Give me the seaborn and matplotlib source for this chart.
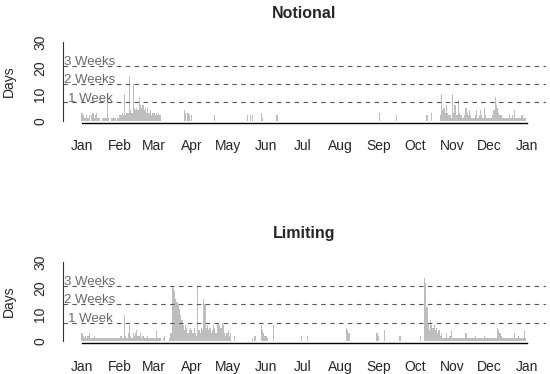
import numpy as np
import pandas as pd
import matplotlib.pyplot as plt
import seaborn as sns

# month ticks (day of year where each month starts)
month_labels = ["Jan", "Feb", "Mar", "Apr", "May", "Jun", "Jul",
                "Aug", "Sep", "Oct", "Nov", "Dec", "Jan"]
month_starts = [0, 31, 59, 90, 120, 151, 181, 212, 243, 273, 304, 334, 365]

week_levels = [7, 14, 21]
week_labels = ["1 Week", "2 Weeks", "3 Weeks"]

# days per calendar day, one line per month
notional = (
    [3, 2, 1, 1, 2, 1, 2, 0, 2, 3, 1, 2, 3, 1, 1, 0, 0, 1, 1, 1, 1, 8, 1, 0, 1, 1, 1, 1, 0, 1, 1]  # Jan
    + [2, 2, 3, 2, 10, 2, 3, 3, 17, 4, 3, 14, 5, 4, 5, 4, 9, 6, 5, 6, 4, 5, 3, 5, 3, 4, 2, 3]  # Feb
    + [3, 2, 3, 2, 3, 2, 0, 0, 0, 0, 0, 0, 0, 0, 0, 0, 0, 0, 0, 0, 0, 0, 0, 0, 0, 4, 3, 0, 3, 2, 0]  # Mar
    + [2, 0, 0, 0, 0, 0, 0, 0, 0, 0, 0, 0, 0, 0, 0, 0, 0, 0, 0, 2, 0, 0, 0, 0, 0, 0, 0, 0, 0, 0]  # Apr
    + [0, 0, 0, 0, 0, 0, 0, 0, 0, 0, 0, 0, 0, 0, 0, 0, 2, 0, 2, 0, 2, 0, 0, 0, 0, 0, 0, 3, 1, 0, 0]  # May
    + [0, 0, 0, 0, 0, 0, 0, 0, 0, 2, 0, 0, 0, 0, 0, 0, 0, 0, 0, 0, 0, 0, 0, 0, 0, 0, 0, 0, 0, 0]  # Jun
    + [0, 0, 0, 0, 0, 0, 0, 0, 0, 0, 0, 0, 0, 0, 0, 0, 0, 0, 0, 0, 0, 0, 0, 0, 0, 0, 0, 0, 0, 0, 0]  # Jul
    + [0, 0, 0, 0, 0, 0, 0, 0, 0, 0, 0, 0, 0, 0, 0, 0, 0, 0, 0, 0, 0, 0, 0, 0, 0, 0, 0, 0, 0, 0, 0]  # Aug
    + [0, 3, 0, 0, 0, 0, 0, 0, 0, 0, 0, 0, 0, 0, 0, 2, 0, 0, 0, 0, 0, 0, 0, 0, 0, 0, 0, 0, 0, 0]  # Sep
    + [0, 0, 0, 0, 0, 0, 0, 0, 0, 0, 2, 0, 0, 0, 3, 0, 0, 0, 0, 0, 0, 2, 10, 4, 5, 3, 6, 3, 2, 2, 1]  # Oct
    + [10, 3, 6, 2, 2, 8, 3, 2, 1, 1, 2, 5, 3, 2, 4, 2, 1, 1, 1, 2, 4, 1, 2, 4, 2, 1, 5, 2, 1, 1]  # Nov
    + [1, 1, 1, 2, 4, 9, 6, 5, 3, 2, 2, 1, 1, 1, 1, 1, 1, 2, 1, 2, 1, 4, 1, 1, 1, 1, 1, 2, 1, 1, 1]  # Dec
)

limiting = (
    [3, 2, 1, 2, 1, 2, 3, 1, 1, 1, 2, 1, 1, 1, 1, 1, 1, 1, 1, 1, 1, 1, 1, 1, 1, 1, 1, 1, 1, 1, 1]  # Jan
    + [1, 2, 1, 1, 10, 2, 1, 3, 6, 2, 1, 3, 2, 3, 4, 2, 2, 3, 1, 2, 1, 1, 1, 2, 1, 1, 1, 1]  # Feb
    + [1, 1, 4, 1, 1, 1, 0, 0, 1, 2, 0, 0, 0, 1, 3, 21, 20, 19, 16, 15, 14, 12, 10, 8, 6, 4, 6, 5, 3, 4, 5]  # Mar
    + [4, 3, 5, 3, 2, 21, 4, 3, 5, 4, 16, 14, 5, 6, 4, 5, 3, 4, 6, 5, 3, 6, 7, 6, 5, 7, 6, 3, 2, 3]  # Apr
    + [4, 2, 3, 0, 0, 2, 0, 0, 0, 0, 0, 0, 0, 0, 0, 0, 0, 0, 0, 0, 1, 0, 2, 0, 0, 0, 0, 6, 4, 3, 2]  # May
    + [2, 1, 0, 0, 0, 0, 6, 0, 0, 0, 0, 0, 0, 0, 0, 0, 0, 0, 0, 0, 0, 0, 0, 0, 0, 0, 0, 0, 0, 2]  # Jun
    + [0, 0, 0, 0, 2, 0, 0, 0, 0, 0, 0, 0, 0, 0, 0, 0, 0, 0, 0, 0, 0, 0, 0, 0, 0, 0, 0, 0, 0, 0, 0]  # Jul
    + [0, 0, 0, 0, 0, 5, 4, 3, 0, 0, 0, 0, 0, 0, 0, 0, 0, 0, 0, 0, 0, 0, 0, 0, 0, 0, 0, 0, 0, 0, 3]  # Aug
    + [2, 0, 0, 0, 0, 4, 0, 0, 0, 0, 0, 0, 0, 0, 0, 0, 0, 0, 2, 0, 0, 0, 0, 0, 0, 0, 0, 0, 0, 0]  # Sep
    + [0, 0, 0, 0, 0, 2, 0, 0, 24, 22, 13, 7, 4, 8, 6, 5, 6, 4, 5, 3, 4, 2, 3, 1, 1, 1, 3, 1, 1, 2, 4]  # Oct
    + [1, 1, 1, 1, 1, 1, 1, 1, 1, 1, 1, 3, 1, 1, 1, 1, 1, 1, 1, 2, 1, 1, 1, 1, 1, 1, 2, 1, 1, 1]  # Nov
    + [1, 1, 1, 1, 1, 1, 1, 5, 4, 3, 2, 1, 1, 1, 1, 1, 1, 1, 1, 1, 1, 3, 1, 1, 2, 1, 1, 1, 1, 4, 1]  # Dec
)

assert len(notional) == 365 and len(limiting) == 365

sns.set_style("white")
plt.rcParams["font.family"] = ["Liberation Sans", "DejaVu Sans"]

fig = plt.figure(figsize=(5.5, 3.74), dpi=100)
ax_top = fig.add_axes([0.1145, 0.6719, 0.878, 0.2246])
ax_bot = fig.add_axes([0.1145, 0.0829, 0.878, 0.2246])

for ax, vals, title in [(ax_top, notional, "Notional"), (ax_bot, limiting, "Limiting")]:
    df = pd.DataFrame({"day": np.arange(365), "days": vals})
    sns.barplot(data=df, x="day", y="days", ax=ax, color="#BEBEBE",
                saturation=1, width=1.0, linewidth=0, errorbar=None)

    for lvl, lab in zip(week_levels, week_labels):
        ax.axhline(lvl, color="#555555", lw=0.8, dashes=(4, 4))
        ax.text(6.5, lvl + 0.3, lab, ha="center", va="baseline",
                fontsize=9.5, color="#6a6a6a")

    ax.set_xlim(-15.6, 380.6)
    ax.set_ylim(-0.76, 31.2)
    ax.set_xticks(month_starts)
    ax.set_xticklabels(month_labels, fontsize=10)
    ax.set_yticks([0, 5, 10, 15, 20, 25, 30])
    ax.set_yticklabels(["0", "", "10", "", "20", "", "30"], fontsize=10,
                       rotation=90, va="center")
    ax.tick_params(axis="x", length=6, width=1, pad=6, color="black")
    ax.tick_params(axis="y", length=5.5, width=0.8, pad=6, color="#333333")
    ax.set_xlabel("")
    ax.set_ylabel("Days", fontsize=10)
    ax.yaxis.set_label_coords(-0.098, 0.5)
    ax.set_title(title, fontsize=11.5, fontweight="bold", pad=15)

    for s in ["top", "right"]:
        ax.spines[s].set_visible(False)
    ax.spines["left"].set_bounds(0, 30)
    ax.spines["bottom"].set_bounds(0, 365)
    ax.spines["left"].set_color("#333333")
    ax.spines["left"].set_linewidth(0.8)
    ax.spines["bottom"].set_color("black")
    ax.spines["bottom"].set_linewidth(1)

fig.savefig("out.png", dpi=100)
